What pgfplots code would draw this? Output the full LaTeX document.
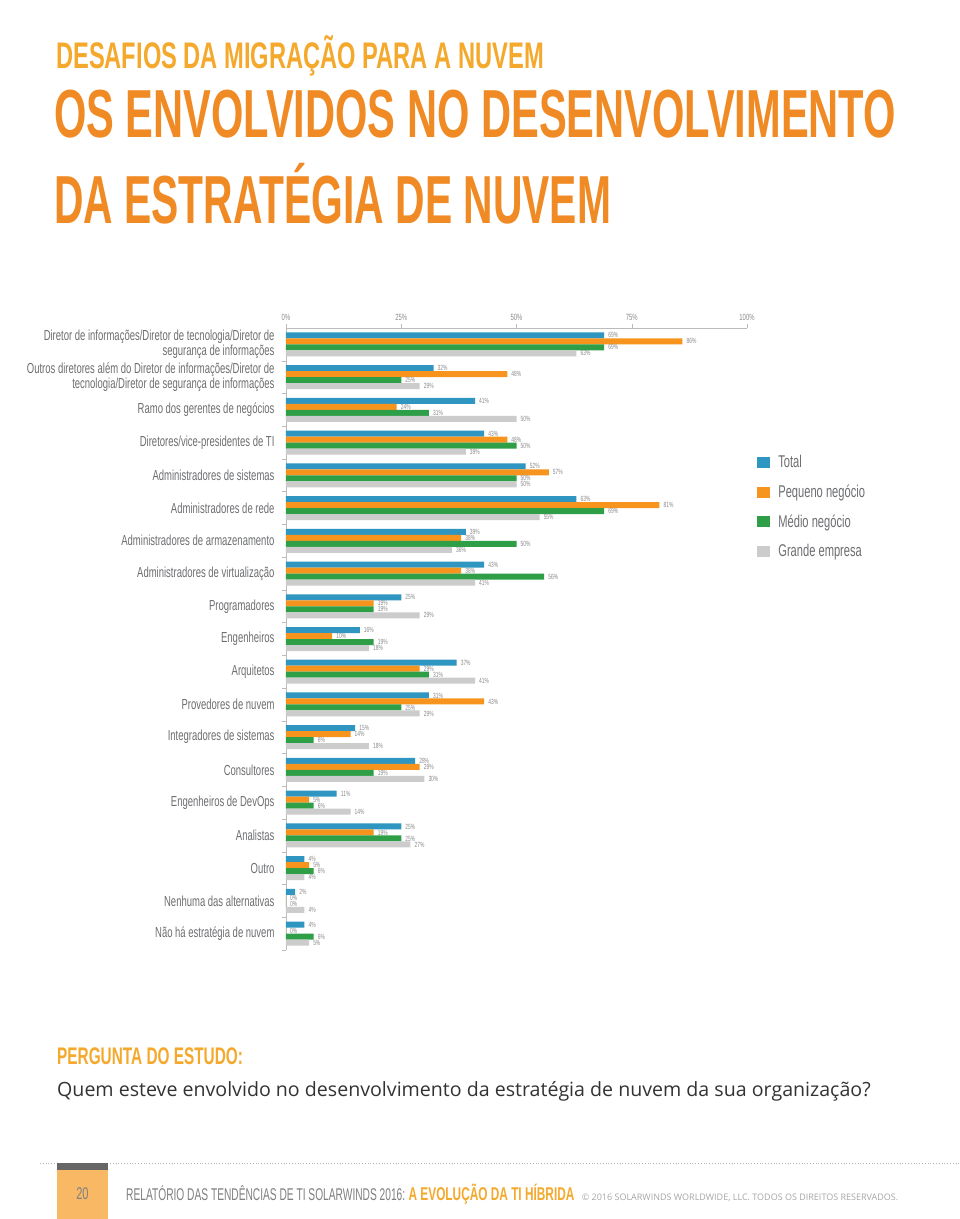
\documentclass[border=0pt]{standalone}
\usepackage{pgfplots}
\pgfplotsset{compat=1.18}
\usepackage{fontspec}
\setmainfont{Liberation Sans}
\newfontfamily\labfont[FakeStretch=0.655]{Liberation Sans}
\newfontfamily\ttlfont[FakeStretch=0.60]{Liberation Sans}
\newfontfamily\ttlfontb[FakeStretch=0.612]{Liberation Sans}
\newfontfamily\subfont[FakeStretch=0.64]{Liberation Sans}
\newfontfamily\osfont{Open Sans}
\definecolor{cblue}{HTML}{2F96C1}
\definecolor{corange}{HTML}{F7941E}
\definecolor{cgreen}{HTML}{2E9E47}
\definecolor{cgray}{HTML}{CCCCCC}
\definecolor{titor}{HTML}{F08A24}
\definecolor{subor}{HTML}{F5A92C}
\definecolor{labgray}{HTML}{6D6E71}
\definecolor{valgray}{HTML}{8A8A8A}
\definecolor{axgray}{HTML}{BBBBBB}
\definecolor{footor}{HTML}{F9B964}
\begin{document}
\begin{tikzpicture}[x=1pt,y=1pt]
\useasboundingbox (0,0) rectangle (960,-1219);
\fill[white] (0,0) rectangle (960,-1219);
\node[anchor=base west, inner sep=0, text=subor] at (56,-68) {\subfont\bfseries\fontsize{37}{40}\selectfont DESAFIOS DA MIGRAÇÃO PARA A NUVEM};
\node[anchor=base west, inner sep=0, text=titor] at (54,-137) {\ttlfontb\bfseries\fontsize{68}{70}\selectfont OS ENVOLVIDOS NO DESENVOLVIMENTO};
\node[anchor=base west, inner sep=0, text=titor] at (54,-223) {\ttlfont\bfseries\fontsize{68}{70}\selectfont DA ESTRATÉGIA DE NUVEM};
\begin{axis}[
  at={(286pt,-328pt)}, anchor=north west,
  scale only axis, width=461pt, height=622pt,
  xmin=0, xmax=100, ymin=-18.5, ymax=0.5,
  clip=false,
  xbar, bar width=6pt,
  axis x line*=top, axis y line*=left,
  axis line style={axgray},
  xtick pos=upper, ytick pos=left,
  tick align=outside, major tick length=4pt,
  xtick={0,25,50,75,100},
  xticklabels={0\%,25\%,50\%,75\%,100\%},
  xtick style={axgray},
  xticklabel style={font=\labfont\fontsize{9}{9}\selectfont, text=valgray},
  ytick={0,-1,-2,-3,-4,-5,-6,-7,-8,-9,-10,-11,-12,-13,-14,-15,-16,-17,-18},
  yticklabels={
    {Diretor de informações/Diretor de tecnologia/Diretor de\\segurança de informações},
    {Outros diretores além do Diretor de informações/Diretor de\\tecnologia/Diretor de segurança de informações},
    Ramo dos gerentes de negócios,
    Diretores/vice-presidentes de TI,
    Administradores de sistemas,
    Administradores de rede,
    Administradores de armazenamento,
    Administradores de virtualização,
    Programadores,
    Engenheiros,
    Arquitetos,
    Provedores de nuvem,
    Integradores de sistemas,
    Consultores,
    Engenheiros de DevOps,
    Analistas,
    Outro,
    Nenhuma das alternativas,
    Não há estratégia de nuvem},
  ytick style={draw=none},
  yticklabel style={font=\labfont\fontsize{14.5}{15}\selectfont, text=labgray, align=right, xshift=-4pt},
  /pgf/number format/assume math mode=true,
  nodes near coords={\pgfmathprintnumber{\pgfplotspointmeta}\%},
  every node near coord/.append style={font=\labfont\fontsize{7.5}{8}\selectfont, text=valgray, inner sep=1pt, xshift=3pt},
  legend image code/.code={\fill[#1] (0pt,-5.5pt) rectangle (13pt,5.5pt);},
  legend style={at={(1.022,0.797)}, anchor=north west, draw=none, fill=none, inner sep=0pt,
    font=\labfont\fontsize{17}{18}\selectfont, text=labgray, row sep=13.7pt,
    nodes={inner xsep=8pt, inner ysep=1pt}},
  legend cell align=left,
]
\addplot[fill=cblue, draw=none, bar shift=9pt] coordinates {
(69,0) (32,-1) (41,-2) (43,-3) (52,-4) (63,-5) (39,-6) (43,-7) (25,-8) (16,-9)
(37,-10) (31,-11) (15,-12) (28,-13) (11,-14) (25,-15) (4,-16) (2,-17) (4,-18)};
\addplot[fill=corange, draw=none, bar shift=3pt] coordinates {
(86,0) (48,-1) (24,-2) (48,-3) (57,-4) (81,-5) (38,-6) (38,-7) (19,-8) (10,-9)
(29,-10) (43,-11) (14,-12) (29,-13) (5,-14) (19,-15) (5,-16) (0,-17) (0,-18)};
\addplot[fill=cgreen, draw=none, bar shift=-3pt] coordinates {
(69,0) (25,-1) (31,-2) (50,-3) (50,-4) (69,-5) (50,-6) (56,-7) (19,-8) (19,-9)
(31,-10) (25,-11) (6,-12) (19,-13) (6,-14) (25,-15) (6,-16) (0,-17) (6,-18)};
\addplot[fill=cgray, draw=none, bar shift=-9pt] coordinates {
(63,0) (29,-1) (50,-2) (39,-3) (50,-4) (55,-5) (36,-6) (41,-7) (29,-8) (18,-9)
(41,-10) (29,-11) (18,-12) (30,-13) (14,-14) (27,-15) (4,-16) (4,-17) (5,-18)};
\legend{Total, Pequeno negócio, Médio negócio, Grande empresa}
\pgfplotsinvokeforeach{0,...,18}{\draw[axgray] (axis cs:0,{-#1-0.5}) -- ++(-4pt,0pt);}
\end{axis}
\node[anchor=base west, inner sep=0, text=subor] at (57,-1064) {\subfont\bfseries\fontsize{24}{26}\selectfont PERGUNTA DO ESTUDO:};
\node[anchor=base west, inner sep=0, text=black!80] at (57,-1096) {\osfont\fontsize{19.6}{22}\selectfont Quem esteve envolvido no desenvolvimento da estratégia de nuvem da sua organização?};
\draw[gray!60, dotted, line width=0.8pt] (40,-1163.5) -- (960,-1163.5);
\fill[footor] (57,-1164) rectangle (108,-1219);
\fill[gray!80!black] (57,-1163) rectangle (108,-1169.5);
\node[text=gray, inner sep=0] at (82.5,-1194) {\labfont\fontsize{17}{18}\selectfont 20};
\node[anchor=base west, inner sep=0, text=gray] (f1) at (126,-1200) {\ttlfont\fontsize{17}{18}\selectfont RELATÓRIO DAS TENDÊNCIAS DE TI SOLARWINDS 2016:};
\node[anchor=base west, inner sep=0, text=subor] (f2) at ([xshift=3pt]f1.base east) {\subfont\bfseries\fontsize{18.5}{19}\selectfont A EVOLUÇÃO DA TI HÍBRIDA};
\node[anchor=base west, inner sep=0, text=gray!70] (f3) at ([xshift=7pt]f2.base east) {\osfont\fontsize{9}{10}\selectfont © 2016 SOLARWINDS WORLDWIDE, LLC. TODOS OS DIREITOS RESERVADOS.};
\end{tikzpicture}
\end{document}
